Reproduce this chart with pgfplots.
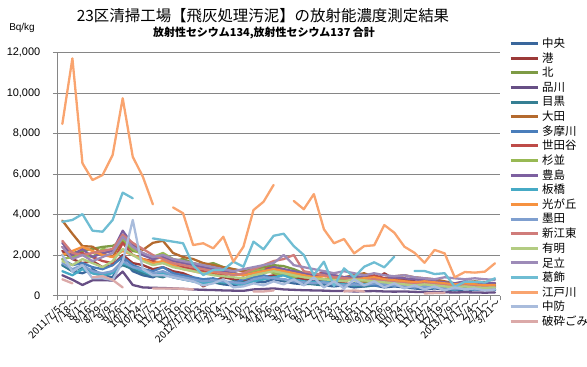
\documentclass[border=0pt]{standalone}
\usepackage{fontspec}
\setmainfont{Liberation Sans}
\newfontfamily\cjk{Noto Sans CJK JP}
\usepackage{pgfplots}
\pgfplotsset{compat=1.18}
\definecolor{axgray}{HTML}{868686}
\definecolor{c1}{HTML}{3A679C}
\definecolor{c2}{HTML}{9C3A38}
\definecolor{c3}{HTML}{7E9B45}
\definecolor{c4}{HTML}{674F85}
\definecolor{c5}{HTML}{357F93}
\definecolor{c6}{HTML}{B46A2E}
\definecolor{c7}{HTML}{4A7EBB}
\definecolor{c8}{HTML}{BE4B48}
\definecolor{c9}{HTML}{98B954}
\definecolor{c10}{HTML}{7D60A0}
\definecolor{c11}{HTML}{46AAC5}
\definecolor{c12}{HTML}{F69240}
\definecolor{c13}{HTML}{7F9FCF}
\definecolor{c14}{HTML}{D07C7A}
\definecolor{c15}{HTML}{B3CC82}
\definecolor{c16}{HTML}{9D8BB8}
\definecolor{c17}{HTML}{6FBDD3}
\definecolor{c18}{HTML}{F9A46F}
\definecolor{c19}{HTML}{A9BCDC}
\definecolor{c20}{HTML}{DBA9A8}
\begin{document}
\begin{tikzpicture}
\useasboundingbox (0,0) rectangle (587bp,367bp);
\node[font=\cjk\fontsize{15.5}{15.5}\selectfont] at (263bp,351bp) {23区清掃工場【飛灰処理汚泥】の放射能濃度測定結果};
\node[font=\cjk\bfseries\fontsize{11}{11}\selectfont] at (264bp,334bp) {放射性セシウム134,放射性セシウム137 合計};
\node[font=\fontsize{10}{10}\selectfont] at (22bp,339bp) {Bq/kg};
\begin{axis}[
  at={(57.3bp,71.5bp)}, anchor=south west,
  scale only axis, width=442.7bp, height=243bp,
  xmin=0.5, xmax=44.5, ymin=0, ymax=12000,
  axis lines*=left,
  axis line style={draw=axgray, -, line width=0.8bp},
  tick style={draw=axgray, line width=0.8bp},
  tick align=outside,
  major tick length=4.5bp,
  scaled y ticks=false,
  ytick={0,2000,4000,6000,8000,10000,12000},
  yticklabels={0,{2,000},{4,000},{6,000},{8,000},{10,000},{12,000}},
  yticklabel style={font=\fontsize{11}{11}\selectfont, xshift=-9bp},
  ymajorgrids, grid style={draw=axgray, line width=0.8bp},
  xtick={0.5,1.5,...,44.5}, xticklabels={},
  extra x ticks={1,2,...,44},
  extra x tick labels={{2011/7/5～},{7/18～},{8/1～},{8/16～},{8/29～},{9/9～},{9/26～},{10/11～},{10/24～},{11/7～},{11/21～},{12/5～},{12/19～},{2012/1/10～},{1/23～},{1/30～},{2/14～},{3/1～},{3/10～},{4/2～},{4/16～},{4/26～},{5/9～},{5/27～},{6/5～},{6/21～},{7/3～},{7/23～},{8/3～},{8/15～},{8/31～},{9/11～},{9/26～},{10/9～},{10/24～},{11/6～},{11/21～},{12/4～},{12/19～},{2013/1/9～},{1/17～},{2/4～},{2/21～},{3/21～}},
  extra x tick style={major tick length=0pt, grid=none, xticklabel style={rotate=45, anchor=east, font=\cjk\fontsize{10}{10}\selectfont, inner sep=1bp, yshift=-7bp}},
  unbounded coords=jump,
  every axis plot/.append style={line width=2.3bp, line join=round, line cap=round, mark=none},
  legend style={at={(1,1)}, anchor=north west, xshift=9bp, yshift=16.5bp, draw=none, fill=none, inner sep=0pt, row sep=0pt,
    font=\cjk\fontsize{11.5}{11.5}\selectfont, nodes={inner sep=0pt, minimum height=14.63bp}},
  legend cell align=left,
  legend image code/.code={\draw[#1, line width=3bp, line cap=butt] (0bp,0bp) -- (27bp,0bp);},
  /tikz/every odd column/.append style={column sep=3bp},
]
\addplot[c1] coordinates {(1,1500)(2,1200)(3,1100)(4,1300)(5,1000)(6,900)(7,1800)(8,1200)(9,1000)(10,900)(11,1100)(12,900)(13,800)(14,700)(15,600)(16,650)(17,550)(18,500)(19,600)(20,700)(21,650)(22,800)(23,700)(24,600)(25,550)(26,600)(27,500)(28,450)(29,500)(30,400)(31,450)(32,500)(33,400)(34,450)(35,400)(36,350)(37,300)(38,350)(39,300)(40,250)(41,300)(42,280)(43,300)(44,260)};
\addlegendentry{中央}
\addplot[c2] coordinates {(1,2200)(2,1800)(3,1600)(4,1700)(5,1400)(6,1500)(7,2000)(8,1600)(9,1500)(10,1300)(11,1400)(12,1200)(13,1100)(14,900)(15,450)(16,700)(17,900)(18,800)(19,700)(20,850)(21,900)(22,1000)(23,1100)(24,900)(25,800)(26,700)(27,750)(28,650)(29,600)(30,550)(31,600)(32,700)(33,1100)(34,800)(35,800)(36,700)(37,600)(38,650)(39,500)(40,450)(41,400)(42,450)(43,380)(44,400)};
\addlegendentry{港}
\addplot[c3] coordinates {(1,2000)(2,2100)(3,2200)(4,2300)(5,2400)(6,2450)(7,2700)(8,2200)(9,2100)(10,1800)(11,1900)(12,1700)(13,1800)(14,1600)(15,1500)(16,1600)(17,1400)(18,1300)(19,1200)(20,1300)(21,1400)(22,1500)(23,1450)(24,1300)(25,1100)(26,1000)(27,1100)(28,900)(29,800)(30,850)(31,900)(32,800)(33,750)(34,800)(35,700)(36,650)(37,700)(38,600)(39,550)(40,600)(41,500)(42,550)(43,500)(44,520)};
\addlegendentry{北}
\addplot[c4] coordinates {(1,1000)(2,780)(3,520)(4,750)(5,760)(6,740)(7,1180)(8,520)(9,400)(10,380)(11,370)(12,350)(13,330)(14,300)(15,280)(16,270)(17,250)(18,240)(19,230)(20,300)(21,320)(22,350)(23,300)(24,280)(25,260)(26,250)(27,240)(28,220)(29,230)(30,200)(31,210)(32,220)(33,200)(34,190)(35,200)(36,180)(37,170)(38,180)(39,160)(40,150)(41,160)(42,150)(43,140)(44,150)};
\addlegendentry{品川}
\addplot[c5] coordinates {(1,1500)(2,1200)(3,1400)(4,1100)(5,1000)(6,1200)(7,1500)(8,1300)(9,1100)(10,1000)(11,900)(12,1100)(13,900)(14,800)(15,700)(16,650)(17,600)(18,700)(19,650)(20,750)(21,800)(22,900)(23,750)(24,700)(25,600)(26,550)(27,500)(28,600)(29,550)(30,500)(31,450)(32,500)(33,550)(34,500)(35,450)(36,400)(37,450)(38,400)(39,350)(40,300)(41,350)(42,320)(43,300)(44,300)};
\addlegendentry{目黒}
\addplot[c6] coordinates {(1,3700)(2,3050)(3,2440)(4,2410)(5,2080)(6,1900)(7,2800)(8,2500)(9,2250)(10,2600)(11,2700)(12,2100)(13,1900)(14,1800)(15,1600)(16,1500)(17,1400)(18,1300)(19,1200)(20,1100)(21,1300)(22,1200)(23,1100)(24,1000)(25,900)(26,850)(27,1000)(28,950)(29,900)(30,1000)(31,1100)(32,900)(33,850)(34,950)(35,1000)(36,900)(37,850)(38,800)(39,700)(40,600)(41,650)(42,700)(43,650)(44,600)};
\addlegendentry{大田}
\addplot[c7] coordinates {(1,1800)(2,1500)(3,1600)(4,1400)(5,1300)(6,1500)(7,1900)(8,1500)(9,1300)(10,1200)(11,1400)(12,1100)(13,1000)(14,900)(15,800)(16,850)(17,700)(18,600)(19,800)(20,900)(21,1000)(22,850)(23,800)(24,700)(25,650)(26,700)(27,600)(28,550)(29,500)(30,600)(31,550)(32,500)(33,450)(34,500)(35,450)(36,400)(37,450)(38,400)(39,350)(40,300)(41,350)(42,300)(43,280)(44,300)};
\addlegendentry{多摩川}
\addplot[c8] coordinates {(1,2400)(2,2000)(3,2100)(4,1900)(5,1700)(6,1600)(7,2600)(8,2000)(9,1800)(10,1700)(11,1600)(12,1500)(13,1400)(14,1300)(15,1200)(16,1100)(17,1000)(18,1100)(19,1000)(20,1200)(21,1300)(22,1400)(23,1300)(24,1100)(25,1000)(26,900)(27,1200)(28,1000)(29,900)(30,800)(31,900)(32,1000)(33,850)(34,800)(35,700)(36,650)(37,700)(38,600)(39,550)(40,500)(41,550)(42,500)(43,450)(44,480)};
\addlegendentry{世田谷}
\addplot[c9] coordinates {(1,1800)(2,1900)(3,2000)(4,1900)(5,2300)(6,2200)(7,2800)(8,2300)(9,2000)(10,1900)(11,2100)(12,1800)(13,1700)(14,1500)(15,1400)(16,1300)(17,1200)(18,1100)(19,1000)(20,1200)(21,1300)(22,1100)(23,1000)(24,900)(25,1000)(26,900)(27,800)(28,850)(29,800)(30,750)(31,700)(32,650)(33,700)(34,650)(35,600)(36,550)(37,500)(38,550)(39,500)(40,450)(41,500)(42,450)(43,420)(44,450)};
\addlegendentry{杉並}
\addplot[c10] coordinates {(1,2600)(2,2000)(3,2300)(4,1900)(5,2100)(6,2200)(7,3200)(8,2500)(9,2000)(10,1800)(11,1900)(12,1700)(13,1600)(14,1500)(15,1400)(16,1300)(17,1200)(18,1100)(19,1000)(20,1100)(21,1200)(22,1400)(23,1300)(24,1200)(25,1100)(26,1000)(27,1100)(28,1000)(29,900)(30,950)(31,900)(32,850)(33,800)(34,900)(35,850)(36,800)(37,750)(38,700)(39,650)(40,600)(41,700)(42,650)(43,600)(44,620)};
\addlegendentry{豊島}
\addplot[c11] coordinates {(1,1200)(2,1000)(3,1300)(4,1100)(5,1000)(6,1100)(7,1600)(8,1400)(9,1200)(10,1000)(11,1100)(12,900)(13,800)(14,700)(15,600)(16,700)(17,650)(18,600)(19,500)(20,700)(21,800)(22,900)(23,1000)(24,800)(25,700)(26,650)(27,700)(28,600)(29,550)(30,500)(31,550)(32,600)(33,550)(34,500)(35,450)(36,500)(37,450)(38,400)(39,350)(40,300)(41,350)(42,300)(43,350)(44,300)};
\addlegendentry{板橋}
\addplot[c12] coordinates {(1,2000)(2,2200)(3,2400)(4,2200)(5,2000)(6,1900)(7,2200)(8,2000)(9,1800)(10,1600)(11,1700)(12,1500)(13,1300)(14,1200)(15,1100)(16,1150)(17,1100)(18,1050)(19,1000)(20,1100)(21,1200)(22,1300)(23,1200)(24,1100)(25,1000)(26,900)(27,950)(28,900)(29,850)(30,800)(31,850)(32,900)(33,800)(34,750)(35,700)(36,650)(37,700)(38,650)(39,600)(40,550)(41,600)(42,550)(43,500)(44,520)};
\addlegendentry{光が丘}
\addplot[c13] coordinates {(1,1600)(2,1300)(3,1500)(4,1200)(5,1100)(6,1200)(7,1700)(8,1400)(9,1300)(10,1100)(11,1200)(12,1000)(13,900)(14,800)(15,700)(16,750)(17,700)(18,650)(19,600)(20,800)(21,900)(22,850)(23,800)(24,700)(25,650)(26,600)(27,650)(28,550)(29,500)(30,550)(31,500)(32,600)(33,550)(34,500)(35,450)(36,400)(37,450)(38,400)(39,350)(40,320)(41,350)(42,300)(43,320)(44,300)};
\addlegendentry{墨田}
\addplot[c14] coordinates {(1,2700)(2,2100)(3,2000)(4,2100)(5,2200)(6,2300)(7,3000)(8,2600)(9,2300)(10,2000)(11,1800)(12,1600)(13,1500)(14,1400)(15,1300)(16,1200)(17,1100)(18,1000)(19,1100)(20,1300)(21,1500)(22,1700)(23,1800)(24,2000)(25,1200)(26,1100)(27,1000)(28,900)(29,850)(30,800)(31,750)(32,800)(33,700)(34,650)(35,600)(36,550)(37,600)(38,550)(39,500)(40,450)(41,500)(42,450)(43,400)(44,420)};
\addlegendentry{新江東}
\addplot[c15] coordinates {(1,1700)(2,1500)(3,1800)(4,1600)(5,1400)(6,1700)(7,2300)(8,2000)(9,1700)(10,1500)(11,1600)(12,1400)(13,1300)(14,1200)(15,1100)(16,1000)(17,950)(18,900)(19,850)(20,1000)(21,1100)(22,1200)(23,1100)(24,1000)(25,900)(26,850)(27,800)(28,750)(29,700)(30,800)(31,750)(32,700)(33,650)(34,600)(35,550)(36,500)(37,550)(38,500)(39,450)(40,400)(41,450)(42,400)(43,380)(44,400)};
\addlegendentry{有明}
\addplot[c16] coordinates {(1,2400)(2,1800)(3,2000)(4,1700)(5,1900)(6,2100)(7,2900)(8,2400)(9,2100)(10,1900)(11,2000)(12,1800)(13,1700)(14,1600)(15,1500)(16,1400)(17,1300)(18,1200)(19,1300)(20,1400)(21,1500)(22,1600)(23,2000)(24,1500)(25,1400)(26,1300)(27,1200)(28,1100)(29,1200)(30,1100)(31,1000)(32,1100)(33,1000)(34,950)(35,1000)(36,900)(37,850)(38,800)(39,900)(40,850)(41,800)(42,850)(43,800)(44,780)};
\addlegendentry{足立}
\addplot[c17] coordinates {(1,3640)(2,3730)(3,4020)(4,3200)(5,3150)(6,3730)(7,5080)(8,4800)(9,nan)(10,2820)(11,2740)(12,2660)(13,2580)(14,1500)(15,1010)(16,1260)(17,1260)(18,1670)(19,1420)(20,2660)(21,2280)(22,2950)(23,3050)(24,2440)(25,2000)(26,1010)(27,1670)(28,470)(29,1340)(30,900)(31,1420)(32,1640)(33,1390)(34,1920)(35,nan)(36,1210)(37,1210)(38,1060)(39,1100)(40,430)(41,680)(42,680)(43,640)(44,850)};
\addlegendentry{葛飾}
\addplot[c18] coordinates {(1,8470)(2,11710)(3,6530)(4,5700)(5,5950)(6,6940)(7,9740)(8,6850)(9,5870)(10,4500)(11,nan)(12,4350)(13,4060)(14,2490)(15,2580)(16,2330)(17,2900)(18,1670)(19,2410)(20,4220)(21,4630)(22,5460)(23,nan)(24,4670)(25,4260)(26,5010)(27,3270)(28,2580)(29,2790)(30,2080)(31,2440)(32,2480)(33,3480)(34,3100)(35,2410)(36,2110)(37,1620)(38,2250)(39,2080)(40,900)(41,1160)(42,1130)(43,1180)(44,1590)};
\addlegendentry{江戸川}
\addplot[c19] coordinates {(1,2000)(2,1180)(3,1500)(4,850)(5,850)(6,770)(7,1670)(8,3730)(9,1300)(10,1000)(11,1000)(12,900)(13,800)(14,700)(15,500)(16,600)(17,800)(18,400)(19,450)(20,600)(21,500)(22,700)(23,550)(24,800)(25,500)(26,900)(27,400)(28,700)(29,350)(30,800)(31,500)(32,700)(33,400)(34,600)(35,350)(36,500)(37,300)(38,450)(39,250)(40,400)(41,300)(42,350)(43,250)(44,300)};
\addlegendentry{中防}
\addplot[c20] coordinates {(1,800)(2,600)(3,nan)(4,900)(5,960)(6,770)(7,400)(8,nan)(9,nan)(10,350)(11,350)(12,350)(13,330)(14,300)(15,nan)(16,nan)(17,nan)(18,nan)(19,nan)(20,200)(21,200)(22,250)(23,nan)(24,nan)(25,nan)(26,nan)(27,nan)(28,nan)(29,200)(30,250)(31,200)(32,nan)(33,nan)(34,nan)(35,nan)(36,nan)(37,100)(38,120)(39,130)(40,nan)(41,nan)(42,nan)(43,nan)(44,nan)};
\addlegendentry{破砕ごみ}
\end{axis}
\end{tikzpicture}
\end{document}
